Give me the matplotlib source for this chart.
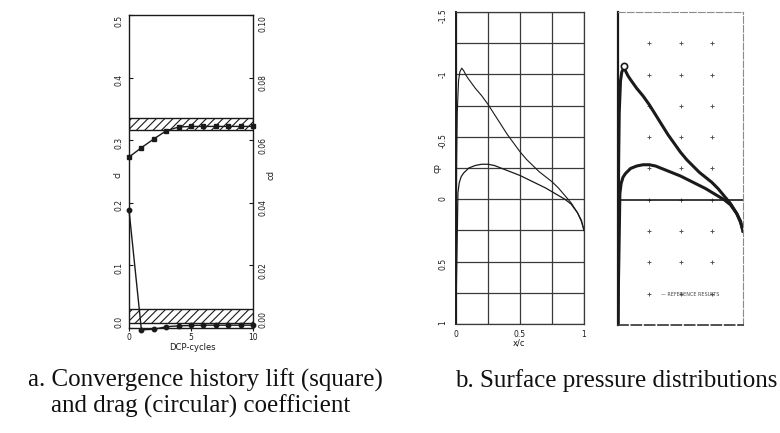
import numpy as np
import matplotlib.pyplot as plt

# %% data
cycles = np.arange(11)
cl_hist = [0.273, 0.288, 0.302, 0.315, 0.321, 0.322, 0.322, 0.322, 0.322, 0.322, 0.322]
cd_hist = [0.0377, -0.0006, -0.0004, 0.0004, 0.0007, 0.0008, 0.0009, 0.0009, 0.0009, 0.0009, 0.0009]
cl_band = (0.316, 0.335)
cd_band = (0.0016, 0.006)

x_up = [0, 0.002, 0.005, 0.01, 0.02, 0.03, 0.045, 0.06, 0.08, 0.1, 0.15, 0.2, 0.25, 0.3,
        0.35, 0.4, 0.45, 0.5, 0.55, 0.6, 0.65, 0.7, 0.75, 0.8, 0.85, 0.9, 0.95, 0.98, 1.0]
cp_up = [1.0, 0.3, -0.3, -0.7, -0.95, -1.02, -1.05, -1.03, -0.99, -0.96, -0.89, -0.83, -0.76, -0.68,
         -0.60, -0.52, -0.45, -0.38, -0.32, -0.27, -0.22, -0.18, -0.14, -0.09, -0.03, 0.03, 0.11, 0.18, 0.25]

x_lo = [0, 0.003, 0.008, 0.015, 0.025, 0.04, 0.06, 0.1, 0.15, 0.2, 0.25, 0.3, 0.4, 0.5,
        0.6, 0.7, 0.75, 0.8, 0.85, 0.9, 0.95, 0.98, 1.0]
cp_lo = [1.0, 0.7, 0.4, -0.05, -0.13, -0.18, -0.21, -0.25, -0.27, -0.28, -0.28, -0.27, -0.23, -0.19,
         -0.14, -0.09, -0.06, -0.03, 0.0, 0.04, 0.11, 0.17, 0.25]

ref_x = [0.05]
ref_cp = [-1.07]

cl_ticks = [0.0, 0.1, 0.2, 0.3, 0.4, 0.5]
cd_ticks = [0.0, 0.02, 0.04, 0.06, 0.08, 0.10]
cp_ticks = [-1.5, -1, -0.5, 0, 0.5, 1]
cp_labels = ['-1.5', '-1', '-0.5', '0', '0.5', '1']

W, H = 780, 433
plt.rcParams['hatch.linewidth'] = 0.8
fig = plt.figure(figsize=(W / 100, H / 100), dpi=100)

def box(l, t, r, b):
    return [l / W, 1 - b / H, (r - l) / W, (b - t) / H]

ink = '#1a1a1a'
small = 5.5

# %% a. convergence history
ax = fig.add_axes(box(129, 15, 253, 328))
ax.set_xlim(0, 10)
ax.set_ylim(0, 0.5)
ax.set_yticks(cl_ticks)
ax.set_yticklabels(['0.0', '0.1', '0.2', '0.3', '0.4', '0.5'])
ax.set_xticks([0, 5, 10])
ax.tick_params(axis='y', direction='in', length=3, labelsize=small, labelrotation=90, pad=4, colors=ink)
ax.tick_params(axis='x', direction='out', length=2, labelsize=small, pad=1.5, colors=ink)
ax.get_yticklabels()[0].set_va('bottom')
ax.get_yticklabels()[-1].set_va('top')
for s in ax.spines.values():
    s.set_color(ink)
    s.set_linewidth(1.0)
ax.fill_between([0, 10], cl_band[0], cl_band[1], facecolor='white', edgecolor=ink, hatch='////', lw=1.0)
ax.plot(cycles, cl_hist, color=ink, lw=1.0, marker='s', ms=3, clip_on=False, zorder=5)

ax2 = ax.twinx()
ax2.set_ylim(0, 0.1)
ax2.set_yticks(cd_ticks)
ax2.set_yticklabels(['0.00', '0.02', '0.04', '0.06', '0.08', '0.10'])
ax2.tick_params(axis='y', direction='in', length=3, labelsize=small, labelrotation=90, pad=4, colors=ink)
ax2.get_yticklabels()[0].set_va('bottom')
ax2.get_yticklabels()[-1].set_va('top')
for s in ax2.spines.values():
    s.set_visible(False)
ax2.fill_between([0, 10], cd_band[0], cd_band[1], facecolor='white', edgecolor=ink, hatch='////', lw=1.0)
ax2.plot(cycles, cd_hist, color=ink, lw=1.0, marker='o', ms=3.2, clip_on=False, zorder=5)

fig.text(118 / W, 1 - 175 / H, 'cl', rotation=90, fontsize=6, ha='center', va='center', color=ink)
fig.text(271 / W, 1 - 175 / H, 'cd', rotation=90, fontsize=6, ha='center', va='center', color=ink)
fig.text(192 / W, 1 - 348 / H, 'DCP-cycles', fontsize=6, ha='center', va='center', color=ink)

# %% b. surface pressure, left frame
grid_x = np.arange(0, 1.01, 0.25)
grid_y = np.arange(-1.5, 1.01, 0.25)

bx = fig.add_axes(box(456, 12, 584, 324))
bx.set_xlim(0, 1)
bx.set_ylim(1, -1.5)
bx.set_yticks(cp_ticks)
bx.set_yticklabels(cp_labels)
bx.set_xticks([0, 0.5, 1])
bx.set_xticklabels(['0', '0.5', '1'])
bx.set_xticks(grid_x, minor=True)
bx.set_yticks(grid_y, minor=True)
bx.grid(True, which='both', color='#3a3a3a', lw=0.9)
bx.tick_params(which='both', length=0)
bx.tick_params(axis='y', labelsize=small, labelrotation=90, pad=6, colors=ink)
bx.tick_params(axis='x', labelsize=small, pad=4, colors=ink)
for s in bx.spines.values():
    s.set_color('#3a3a3a')
    s.set_linewidth(0.9)
bx.spines['left'].set_color(ink)
bx.spines['left'].set_linewidth(1.4)
bx.plot(x_up, cp_up, color=ink, lw=0.8)
bx.plot(x_lo, cp_lo, color=ink, lw=0.9)
fig.text(437 / W, 1 - 168 / H, 'cp', rotation=90, fontsize=6, ha='center', va='center', color=ink)
fig.text(519 / W, 1 - 343 / H, 'x/c', fontsize=6, ha='center', va='center', color=ink)

# %% b. surface pressure, right frame with reference results
cx = fig.add_axes(box(618, 12, 743, 325))
cx.set_xlim(0, 1)
cx.set_ylim(1, -1.5)
cx.set_xticks([])
cx.set_yticks([])
# sparse grid: small dots only where grid lines would cross
gx, gy = np.meshgrid(grid_x[1:-1], grid_y[1:-1])
cx.plot(gx.ravel(), gy.ravel(), linestyle='none', marker='+', ms=2.5, mew=0.7, color='#555555')
for s in cx.spines.values():
    s.set_color('#8a8a8a')
    s.set_linewidth(0.8)
    s.set_linestyle((0, (6, 2)))
cx.spines['left'].set_color(ink)
cx.spines['left'].set_linewidth(1.6)
cx.spines['left'].set_linestyle('-')
cx.spines['bottom'].set_color('#333333')
cx.spines['bottom'].set_linewidth(1.2)
cx.axhline(0, color=ink, lw=1.2)
cx.plot(x_up, cp_up, color=ink, lw=2.2)
cx.plot(x_lo, cp_lo, color=ink, lw=2.2)
cx.plot(ref_x, ref_cp, linestyle='none', marker='o', ms=4.5, mfc='white', mec=ink, mew=1.2)
cx.text(0.58, 0.76, '— REFERENCE RESULTS', fontsize=3.5, ha='center', va='center', color='#444444')

# %% captions
cap = dict(family='Liberation Serif', fontsize=18, va='baseline', color='#111111')
fig.text(28 / W, 1 - 387 / H, 'a. Convergence history lift (square)', **cap)
fig.text(51 / W, 1 - 413 / H, 'and drag (circular) coefficient', **cap)
fig.text(777 / W, 1 - 387 / H, 'b. Surface pressure distributions', ha='right', **cap)

fig.savefig('out.png', dpi=100)
